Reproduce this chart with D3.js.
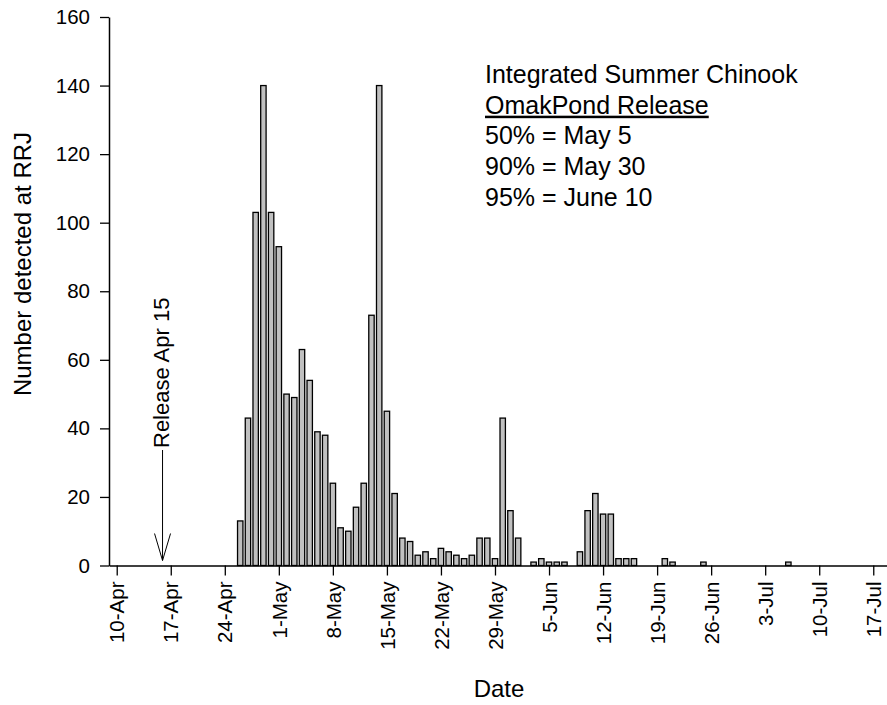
<!DOCTYPE html>
<html>
<head>
<meta charset="utf-8">
<script src="https://cdn.jsdelivr.net/npm/d3@7"></script>
<style>
  body { margin: 0; background: #fff; }
  svg { display: block; font-family: "Liberation Sans", Arial, sans-serif; }
</style>
</head>
<body>
<svg width="887" height="705"></svg>
<script>
// daily detections at RRJ, first value is 26-Apr, one value per day after that
var firstDay = "2008-04-26";
var dailyCounts = [
  13, 43, 103, 140, 103,                       // 26-30 Apr
  93, 50, 49, 63, 54, 39, 38, 24, 11, 10,      // 1-10 May
  17, 24, 73, 140, 45, 21, 8, 7, 3, 4,         // 11-20 May
  2, 5, 4, 3, 2, 3, 8, 8, 2, 43, 16,           // 21-31 May
  8, 0, 1, 2, 1, 1, 1, 0, 4, 16,               // 1-10 Jun
  21, 15, 15, 2, 2, 2, 0, 0, 0, 2,             // 11-20 Jun
  1, 0, 0, 0, 1, 0, 0, 0, 0, 0,                // 21-30 Jun
  0, 0, 0, 0, 0, 1                             // 1-6 Jul
];

var xTickDates = ["2008-04-10", "2008-04-17", "2008-04-24", "2008-05-01", "2008-05-08",
  "2008-05-15", "2008-05-22", "2008-05-29", "2008-06-05", "2008-06-12", "2008-06-19",
  "2008-06-26", "2008-07-03", "2008-07-10", "2008-07-17"];
var yTicks = [0, 20, 40, 60, 80, 100, 120, 140, 160];

var releaseDay = "2008-04-16";
var releaseLabel = "Release Apr 15";
var noteLines = ["Integrated Summer Chinook", "OmakPond Release", "50% = May 5", "90% = May 30", "95% = June 10"];

var parseDay = d3.utcParse("%Y-%m-%d");
var fmtTick = d3.utcFormat("%-d-%b");
var dayMs = 86400000;
var fontFam = "'Liberation Sans', Arial, sans-serif";

var bars = [];
var start = parseDay(firstDay);
for (var i = 0; i < dailyCounts.length; i++) {
  if (dailyCounts[i] > 0) bars.push({ day: new Date(start.getTime() + i * dayMs), n: dailyCounts[i] });
}

var svg = d3.select("svg");

var x = d3.scaleUtc()
  .domain([parseDay("2008-04-09"), parseDay("2008-07-19")])
  .range([109, 888.7]);
var y = d3.scaleLinear().domain([0, 160]).range([565.5, 17]);

var barW = 5.4;

//bars
svg.append("g").selectAll("rect")
  .data(bars)
  .enter().append("rect")
  .attr("x", function(d) { return x(d.day) - barW / 2; })
  .attr("y", function(d) { return y(d.n); })
  .attr("width", barW)
  .attr("height", function(d) { return y(0) - y(d.n); })
  .style("fill", "#c0c0c0")
  .style("stroke", "#000")
  .style("stroke-width", 1.3);

//x axis
var xAxis = d3.axisBottom(x)
  .tickValues(xTickDates.map(parseDay))
  .tickFormat(fmtTick)
  .tickSize(10)
  .tickSizeOuter(0);
var gx = svg.append("g")
  .attr("transform", "translate(0," + y(0) + ")")
  .call(xAxis);
gx.select(".domain").attr("stroke-width", 1.5);
gx.selectAll(".tick line").attr("stroke-width", 1.3);
gx.selectAll(".tick text")
  .attr("transform", "rotate(-90)")
  .attr("x", -16)
  .attr("y", 0)
  .attr("dy", "0.35em")
  .style("text-anchor", "end")
  .style("font-size", "20.5px")
  .style("font-family", fontFam)
  .attr("fill", "#000");

//y axis
var yAxis = d3.axisLeft(y)
  .tickValues(yTicks)
  .tickSize(9)
  .tickSizeOuter(0)
  .tickPadding(10);
var gy = svg.append("g")
  .attr("transform", "translate(109,0)")
  .call(yAxis);
gy.select(".domain").attr("stroke-width", 1.5);
gy.selectAll(".tick line").attr("stroke-width", 1.3);
gy.selectAll(".tick text")
  .style("font-size", "20.5px")
  .style("font-family", fontFam)
  .attr("fill", "#000");

//axis titles
svg.append("text")
  .attr("transform", "translate(31,264) rotate(-90)")
  .style("text-anchor", "middle")
  .style("font-size", "24px")
  .text("Number detected at RRJ");

svg.append("text")
  .attr("x", 499)
  .attr("y", 697)
  .style("text-anchor", "middle")
  .style("font-size", "24px")
  .text("Date");

//release arrow
var rx = x(parseDay(releaseDay)) - 0.5;
var tip = y(0) - 5;
svg.append("line")
  .attr("x1", rx).attr("x2", rx)
  .attr("y1", 450).attr("y2", tip)
  .style("stroke", "#000").style("stroke-width", 1);
svg.append("path")
  .attr("d", "M" + (rx - 8) + "," + (tip - 27) + "L" + rx + "," + tip + "L" + (rx + 8) + "," + (tip - 27))
  .style("fill", "none").style("stroke", "#000").style("stroke-width", 1);
svg.append("text")
  .attr("transform", "translate(" + (rx + 6) + ",448) rotate(-90)")
  .style("font-size", "22px")
  .text(releaseLabel);

//note block
svg.selectAll(".note")
  .data(noteLines)
  .enter().append("text")
  .attr("class", "note")
  .attr("x", 485)
  .attr("y", function(d, i) { return 83 + i * 30.7; })
  .style("font-size", "25px")
  .style("text-decoration", function(d, i) { return i == 1 ? "underline" : null; })
  .text(function(d) { return d; });
</script>
</body>
</html>
